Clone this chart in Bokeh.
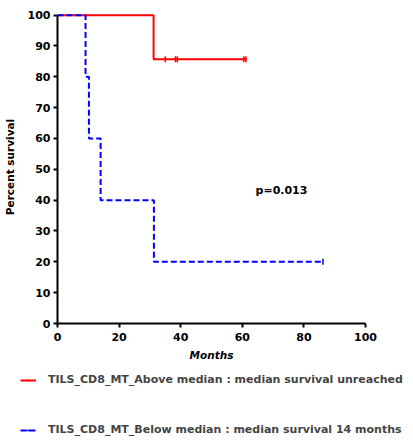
import math
from bokeh.plotting import figure
from bokeh.layouts import column
from bokeh.models import Range1d, Legend, LegendItem, FixedTicker
from bokeh.core.properties import value
from bokeh.embed import file_html
from bokeh.resources import INLINE

# Data
above_time = [0, 31.2, 61.4]
above_surv = [100, 85.7, 85.7]
above_cens_time = [35.0, 38.3, 38.9, 60.5, 61.2]
above_cens_surv = [85.7, 85.7, 85.7, 85.7, 85.7]

below_time = [0, 9.1, 10.2, 14.0, 31.3, 86.2]
below_surv = [100, 80, 60, 40, 20, 20]
below_cens_time = [86.2]
below_cens_surv = [20]

x_ticks = [0, 20, 40, 60, 80, 100]
y_ticks = [0, 10, 20, 30, 40, 50, 60, 70, 80, 90, 100]
p_text = ["p=0.013"]
p_x = [64.3]
p_y = [43.2]
label_above = "TILS_CD8_MT_Above median : median survival unreached"
label_below = "TILS_CD8_MT_Below median : median survival 14 months"

FONT = "DejaVu Sans"
RED = "#ff0000"
BLUE = "#0000ff"

p = figure(width=405, height=363, output_backend="svg", toolbar_location=None,
           x_range=Range1d(0, 100), y_range=Range1d(0, 101.5), frame_align=False,
           min_border_left=57, min_border_right=40, min_border_top=10, min_border_bottom=40)
p.grid.visible = False
p.outline_line_color = None

for ax in (p.xaxis[0], p.yaxis[0]):
    ax.axis_line_width = 2
    ax.axis_line_color = "black"
    ax.major_tick_line_width = 2
    ax.major_tick_out = 4
    ax.major_tick_in = 0
    ax.minor_tick_line_color = None
    ax.major_label_text_font = FONT
    ax.major_label_text_font_style = "bold"
    ax.major_label_text_font_size = "11px"
    ax.major_label_text_color = "black"
    ax.axis_label_text_font = FONT
    ax.axis_label_text_font_size = "10.5px"
    ax.axis_label_text_color = "black"

p.xaxis.ticker = FixedTicker(ticks=x_ticks)
p.yaxis.ticker = FixedTicker(ticks=y_ticks)
p.yaxis.bounds = (0, 100)
p.xaxis.axis_label = "Months"
p.xaxis.axis_label_text_font_style = "bold italic"
p.xaxis.axis_label_standoff = 5
p.yaxis.axis_label = "Percent survival"
p.yaxis.axis_label_text_font_style = "bold"
p.yaxis.axis_label_standoff = 9
p.xaxis.major_label_standoff = 5
p.yaxis.major_label_standoff = 3

p.step(above_time, above_surv, mode="after", line_color=RED, line_width=2)
p.scatter(above_cens_time, above_cens_surv, marker="dash", angle=math.pi / 2,
          size=6, line_color=RED, line_width=1.5)
p.step(below_time, below_surv, mode="after", line_color=BLUE, line_width=2, line_dash="6 3")
p.scatter(below_cens_time, below_cens_surv, marker="dash", angle=math.pi / 2,
          size=6, line_color=BLUE, line_width=1.5)

p.text(p_x, p_y, text=p_text, text_font=value(FONT), text_font_style="bold",
       text_font_size="11px", text_baseline="middle", text_align="left", text_color="black")

# Legend panel below the chart (its sample renderers lie outside its ranges)
q = figure(width=405, height=77, output_backend="svg", toolbar_location=None,
           x_range=Range1d(0, 1), y_range=Range1d(0, 1), frame_align=False,
           x_axis_type=None, y_axis_type=None,
           min_border_left=0, min_border_right=0, min_border_top=0, min_border_bottom=0)
q.grid.visible = False
q.outline_line_color = None
la = q.line([-5, -4], [-5, -4], line_color=RED, line_width=2)
lac = q.scatter([-5], [-5], marker="dash", angle=math.pi / 2, size=6, line_color=RED, line_width=1.5)
lb = q.line([-5, -4], [-5, -4], line_color=BLUE, line_width=2, line_dash="6 3")
lbc = q.scatter([-5], [-5], marker="dash", angle=math.pi / 2, size=6, line_color=BLUE, line_width=1.5)

legend = Legend(items=[LegendItem(label=label_above, renderers=[la, lac]),
                       LegendItem(label=label_below, renderers=[lb, lbc])],
                location=(20, 4), orientation="vertical",
                glyph_width=16, glyph_height=10, label_height=10,
                label_standoff=12, spacing=37, padding=0, margin=0,
                border_line_color=None, background_fill_alpha=0,
                label_text_font=FONT, label_text_font_style="bold",
                label_text_font_size="11px")
q.add_layout(legend, "center")

layout = column(p, q, spacing=0)
open("out.html", "w").write(file_html(layout, INLINE))
